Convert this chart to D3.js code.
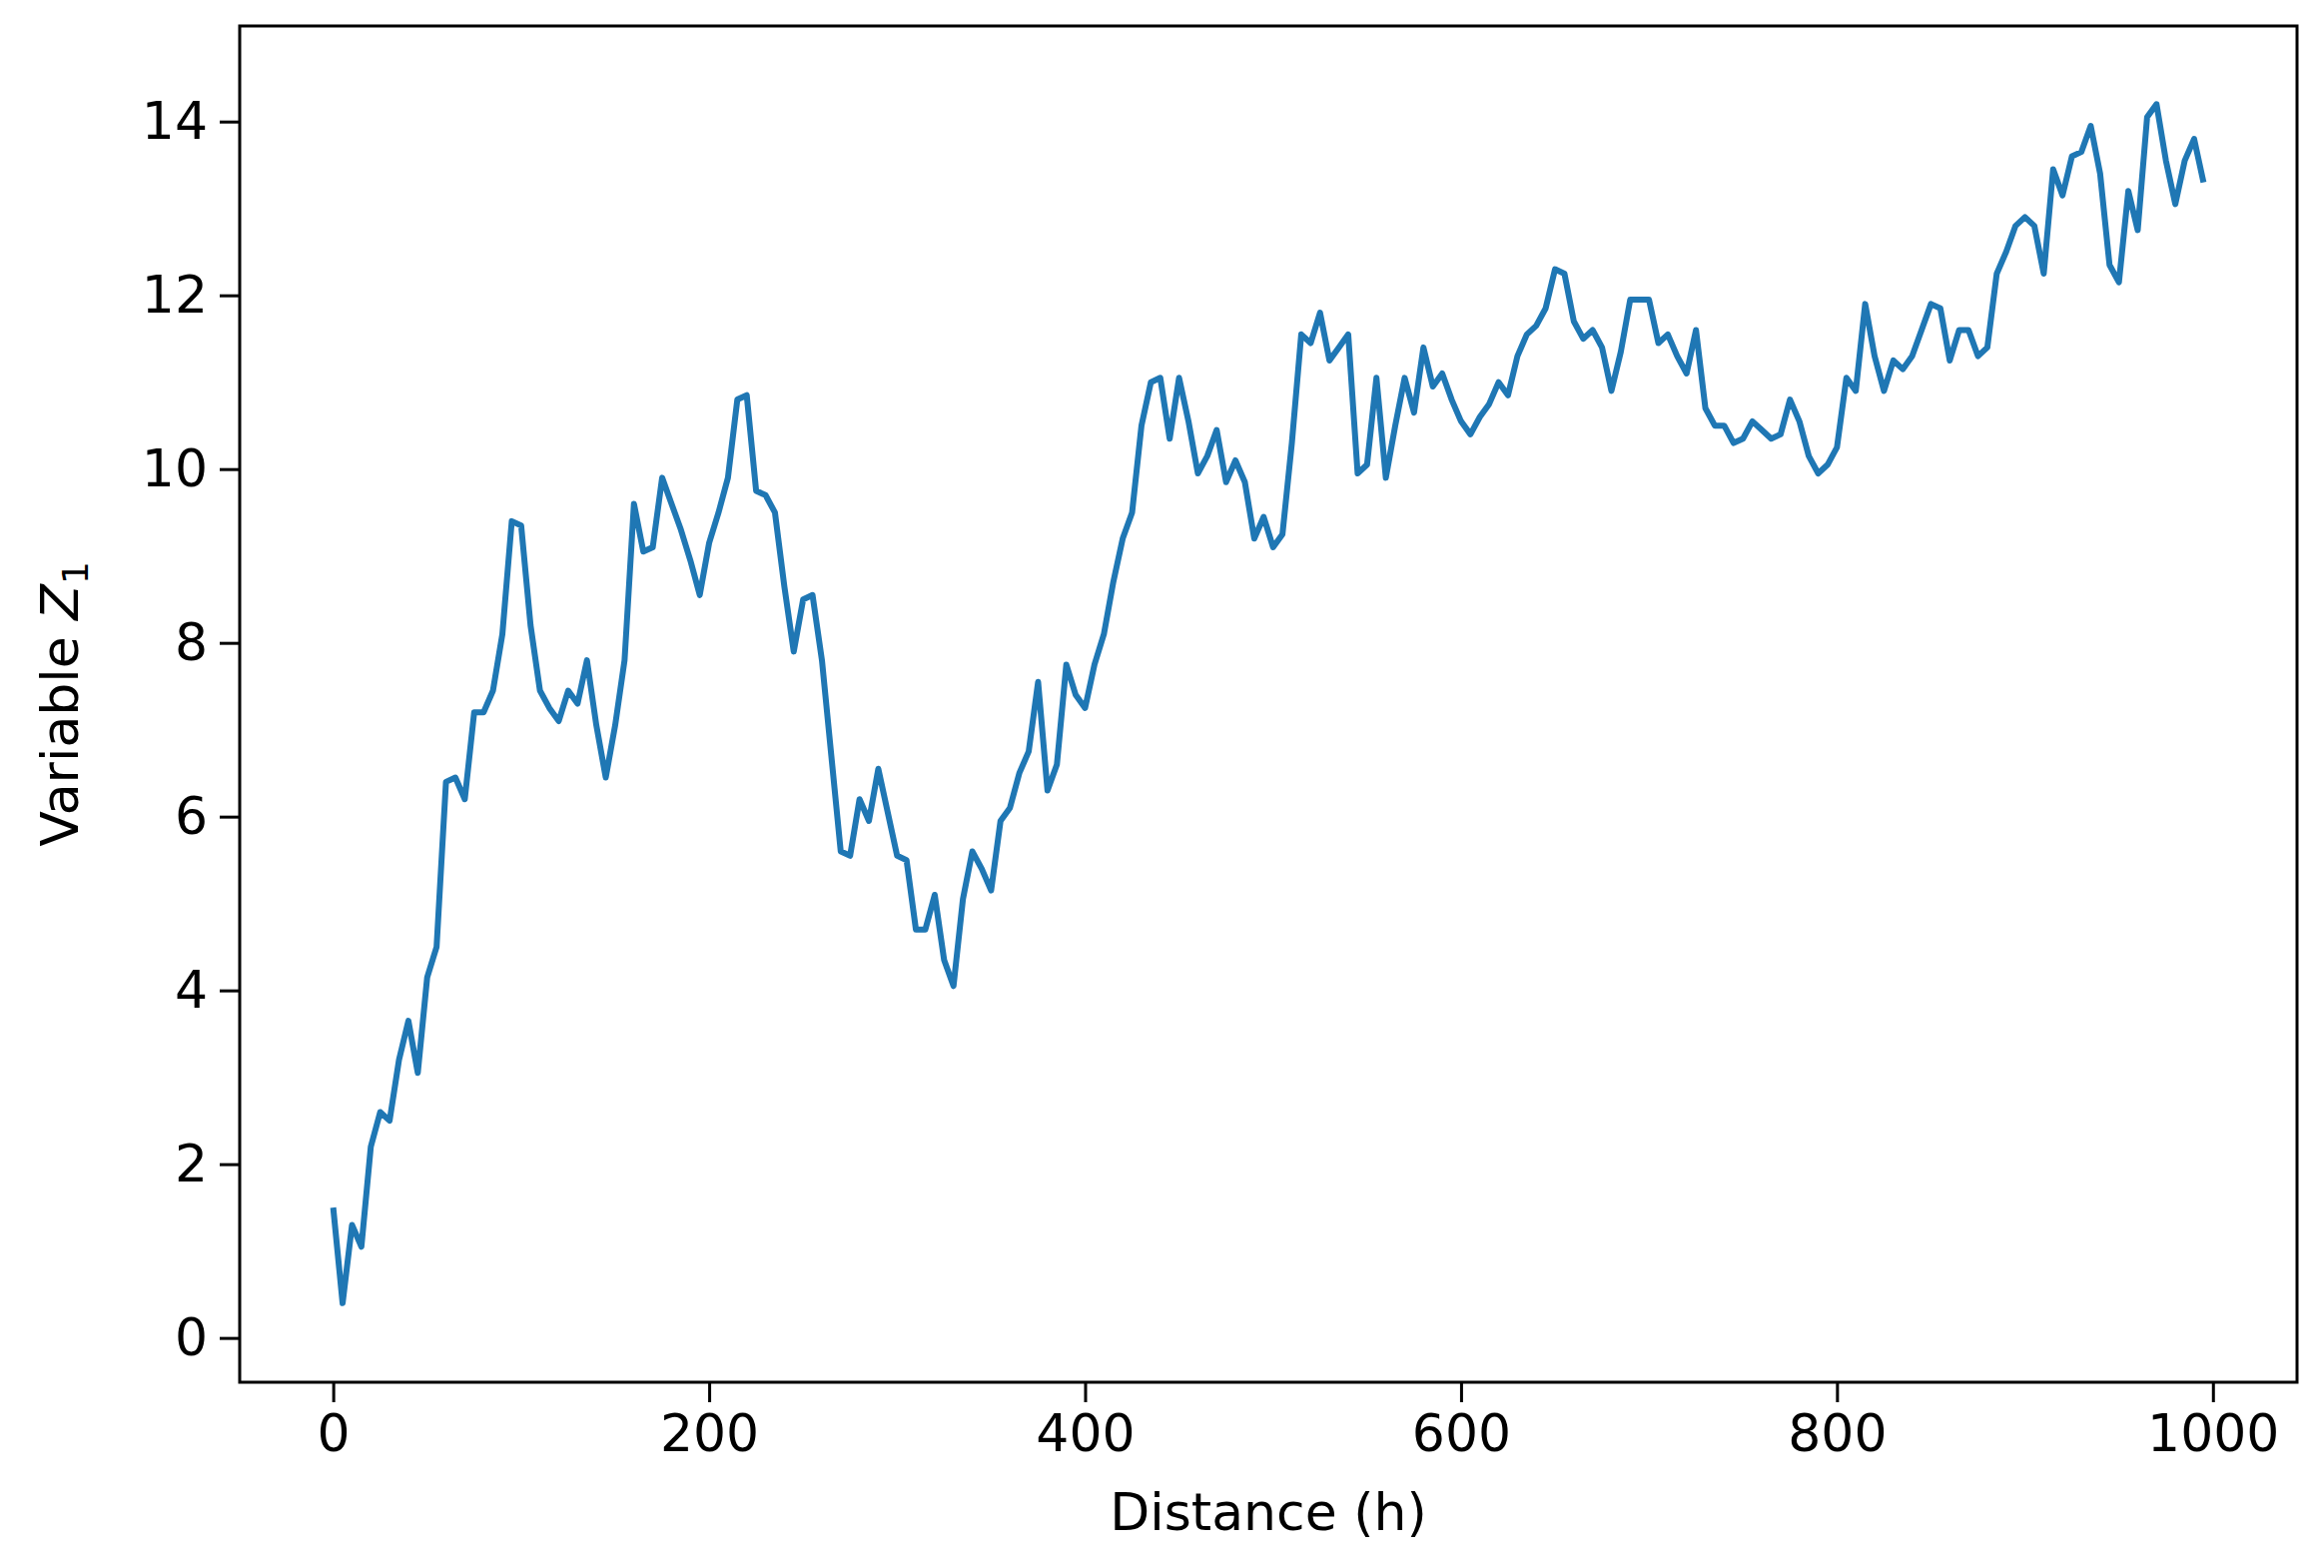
<!DOCTYPE html>
<html>
<head>
<meta charset="utf-8">
<script src="https://cdn.jsdelivr.net/npm/d3@7"></script>
<style>
  body { margin: 0; background: #fff; }
  text { font-family: "DejaVu Sans", sans-serif; }
</style>
</head>
<body>
<div id="chart"></div>
<script>
// distance lags, step 5
var distances = d3.range(0, 1000, 5);
var values = [
  1.5, 0.4, 1.3, 1.05, 2.2, 2.6, 2.5, 3.2, 3.65, 3.05,
  4.15, 4.5, 6.4, 6.45, 6.2, 7.2, 7.2, 7.45, 8.1, 9.4,
  9.35, 8.2, 7.45, 7.25, 7.1, 7.45, 7.3, 7.8, 7.05, 6.45,
  7.05, 7.8, 9.6, 9.05, 9.1, 9.9, 9.6, 9.3, 8.95, 8.55,
  9.15, 9.5, 9.9, 10.8, 10.85, 9.75, 9.7, 9.5, 8.65, 7.9,
  8.5, 8.55, 7.8, 6.7, 5.6, 5.55, 6.2, 5.95, 6.55, 6.05,
  5.55, 5.5, 4.7, 4.7, 5.1, 4.35, 4.05, 5.05, 5.6, 5.4,
  5.15, 5.95, 6.1, 6.5, 6.75, 7.55, 6.3, 6.6, 7.75, 7.4,
  7.25, 7.75, 8.1, 8.7, 9.2, 9.5, 10.5, 11.0, 11.05, 10.35,
  11.05, 10.55, 9.95, 10.15, 10.45, 9.85, 10.1, 9.85, 9.2, 9.45,
  9.1, 9.25, 10.3, 11.55, 11.45, 11.8, 11.25, 11.4, 11.55, 9.95,
  10.05, 11.05, 9.9, 10.5, 11.05, 10.65, 11.4, 10.95, 11.1, 10.8,
  10.55, 10.4, 10.6, 10.75, 11.0, 10.85, 11.3, 11.55, 11.65, 11.85,
  12.3, 12.25, 11.7, 11.5, 11.6, 11.4, 10.9, 11.35, 11.95, 11.95,
  11.95, 11.45, 11.55, 11.3, 11.1, 11.6, 10.7, 10.5, 10.5, 10.3,
  10.35, 10.55, 10.45, 10.35, 10.4, 10.8, 10.55, 10.15, 9.95, 10.05,
  10.25, 11.05, 10.9, 11.9, 11.3, 10.9, 11.25, 11.15, 11.3, 11.6,
  11.9, 11.85, 11.25, 11.6, 11.6, 11.3, 11.4, 12.25, 12.5, 12.8,
  12.9, 12.8, 12.25, 13.45, 13.15, 13.6, 13.65, 13.95, 13.4, 12.35,
  12.15, 13.2, 12.75, 14.05, 14.2, 13.55, 13.05, 13.55, 13.8, 13.3
];
var xTicks = [0, 200, 400, 600, 800, 1000];
var yTicks = [0, 2, 4, 6, 8, 10, 12, 14];

var W = 2327, H = 1570;
var mLeft = 240, mTop = 26, mRight = 2300, mBottom = 1384;

var svg = d3.select("#chart").append("svg")
    .attr("width", W).attr("height", H);

var x = d3.scaleLinear().domain([-49.75, 1044.75]).range([mLeft, mRight]);
var y = d3.scaleLinear().domain([-0.51, 15.1]).range([mBottom, mTop]);

var line = d3.line()
    .x((d, i) => x(distances[i]))
    .y((d) => y(d));

svg.append("path")
    .datum(values)
    .attr("d", line)
    .attr("fill", "none")
    .attr("stroke", "#1f77b4")
    .attr("stroke-width", 6)
    .attr("stroke-linejoin", "round");

var xAxis = svg.append("g")
    .attr("transform", `translate(0,${mBottom})`)
    .call(d3.axisBottom(x).tickValues(xTicks).tickFormat(d3.format("d")).tickSize(20).tickPadding(12));
var yAxis = svg.append("g")
    .attr("transform", `translate(${mLeft},0)`)
    .call(d3.axisLeft(y).tickValues(yTicks).tickSize(20).tickPadding(12));

[xAxis, yAxis].forEach(function (g) {
  g.select(".domain").remove();
  g.selectAll("line").attr("stroke", "black").attr("stroke-width", 3);
  g.selectAll("text").attr("font-size", 52).attr("fill", "black")
    .style("font-family", "DejaVu Sans");
});

svg.append("rect")
    .attr("x", mLeft).attr("y", mTop)
    .attr("width", mRight - mLeft).attr("height", mBottom - mTop)
    .attr("fill", "none").attr("stroke", "black").attr("stroke-width", 3);

svg.append("text")
    .attr("x", (mLeft + mRight) / 2).attr("y", 1532)
    .attr("text-anchor", "middle")
    .attr("font-size", 52)
    .text("Distance (h)");

var yl = svg.append("text")
    .attr("transform", `translate(78,${(mTop + mBottom) / 2}) rotate(-90)`)
    .attr("text-anchor", "middle")
    .attr("font-size", 52);
yl.append("tspan").text("Variable ");
yl.append("tspan").attr("font-style", "italic").text("Z");
yl.append("tspan").attr("font-size", 36).attr("dy", 10).text("1");
</script>
</body>
</html>
